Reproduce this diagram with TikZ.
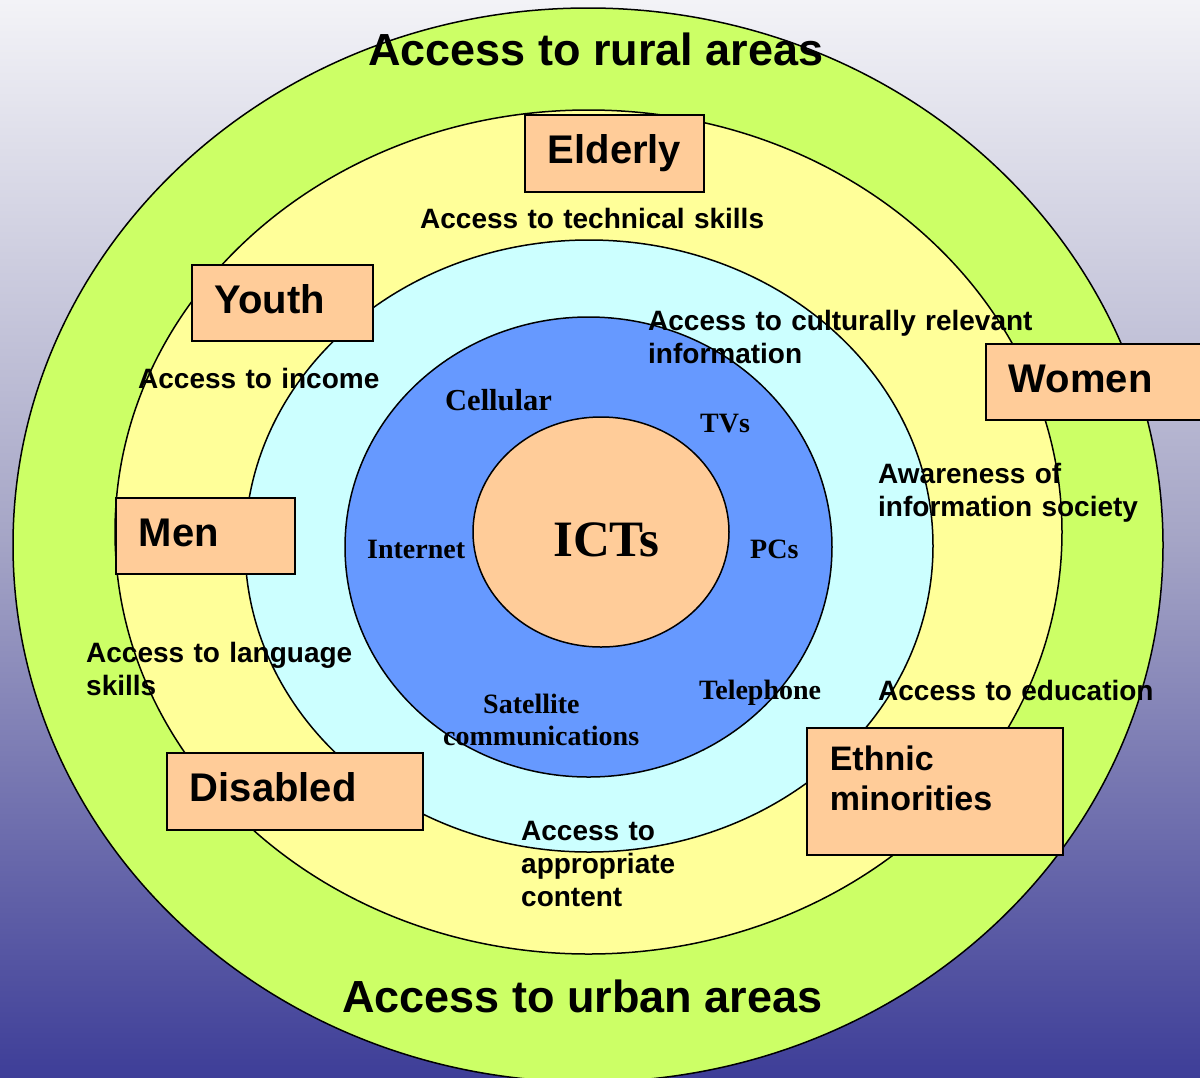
\documentclass[tikz,border=0pt]{standalone}
\usepackage{fontspec}
\setmainfont{Liberation Sans}
\newfontfamily\serifb{Liberation Serif}
\definecolor{ringgreen}{HTML}{CCFF66}
\definecolor{ringyellow}{HTML}{FFFF99}
\definecolor{ringcyan}{HTML}{CCFFFF}
\definecolor{ringblue}{HTML}{6699FF}
\definecolor{boxorange}{HTML}{FFCC99}
\definecolor{bgtop}{RGB}{243,243,247}
\definecolor{bgmid}{RGB}{165,165,198}
\definecolor{bgbot}{RGB}{62,62,152}
\pgfdeclareverticalshading{bgshade}{100bp}{color(0bp)=(bgbot); color(25bp)=(bgbot); color(50bp)=(bgmid); color(75bp)=(bgtop); color(100bp)=(bgtop)}
\begin{document}
\begin{tikzpicture}[x=1pt,y=-1pt,
  ring/.style={draw=black,line width=1.5pt},
  grp/.style={rectangle,draw=black,line width=1.6pt,fill=boxorange,anchor=north west,align=left,
    inner xsep=23pt,inner ysep=0pt,font=\bfseries\fontsize{40}{46}\selectfont,text height=29pt,text depth=8pt},
  lbl/.style={anchor=base west,align=left,text width=420pt,inner sep=0pt,font=\bfseries\fontsize{28}{33}\selectfont},
  big/.style={anchor=base west,inner sep=0pt,font=\bfseries\fontsize{45}{52}\selectfont},
  tech/.style={anchor=base west,align=left,text width=260pt,inner sep=0pt,font=\serifb\bfseries\fontsize{28}{32}\selectfont}]
\useasboundingbox (0,0) rectangle (1200,1077);
\shade[shading=bgshade] (0,0) rectangle (1200,1077);
\begin{scope}
\clip (0,0) rectangle (1200,1077);
\filldraw[ring,fill=ringgreen] (588,545) ellipse [x radius=575pt,y radius=537pt];
\filldraw[ring,fill=ringyellow] (588.5,532) ellipse [x radius=473.5pt,y radius=422pt];
\filldraw[ring,fill=ringcyan] (589,546) ellipse [x radius=344pt,y radius=306pt];
\filldraw[ring,fill=ringblue] (588.5,547) ellipse [x radius=243.5pt,y radius=230pt];
\filldraw[ring,fill=boxorange] (601,532) ellipse [x radius=128pt,y radius=115pt];

% group boxes
\node[grp,minimum height=77pt,text width=133pt] (elderly) at (524,114) {Elderly};
\node[grp,minimum height=76pt,text width=135pt] (youth) at (191,264) {Youth};
\node[grp,minimum height=76pt,text width=184pt] (women) at (985,343) {Women};
\node[grp,minimum height=76pt,text width=133pt] (men) at (115,497) {Men};
\node[grp,minimum height=77pt,text width=210pt] (disabled) at (166,752) {Disabled};
\node[grp,minimum height=127pt,text width=210pt,font=\bfseries\fontsize{34}{40}\selectfont,
  text height=25pt,text depth=66pt] (ethnic) at (806,727) {Ethnic\\minorities};

% access labels
\node[big] (rural) at (368,65) {Access to rural areas};
\node[big] (urban) at (342,1012) {Access to urban areas};
\node[lbl] (technical) at (420,228) {Access to technical skills};
\node[lbl] (income) at (138,388) {Access to income};
\node[lbl] (cultural) at (648,330) {Access to culturally relevant\\information};
\node[lbl] (aware) at (878,483) {Awareness of\\information society};
\node[lbl] (language) at (86,662) {Access to language\\skills};
\node[lbl] (education) at (878,700) {Access to education};
\node[lbl] (content) at (521,840) {Access to\\appropriate\\content};

% technologies
\node[tech,font=\serifb\bfseries\fontsize{30.5}{34}\selectfont] (cellular) at (445,410) {Cellular};
\node[tech] (tvs) at (700,432) {TVs};
\node[tech] (internet) at (367,558) {Internet};
\node[tech] (pcs) at (750,558) {PCs};
\node[tech] (telephone) at (699,699) {Telephone};
\node[tech] (satellite) at (443,713) {\hspace*{40pt}Satellite\\communications};
\node[anchor=base west,inner sep=0pt,font=\serifb\bfseries\fontsize{51}{58}\selectfont] (icts) at (553,556) {ICTs};
\end{scope}
\end{tikzpicture}
\end{document}
